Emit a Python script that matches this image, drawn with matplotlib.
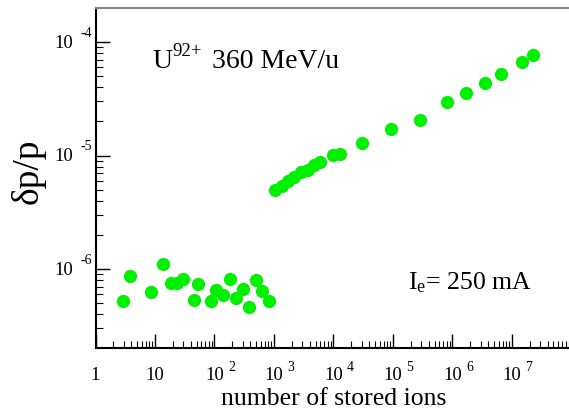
import numpy as np
import matplotlib
matplotlib.use("Agg")
import matplotlib.pyplot as plt
from matplotlib.ticker import LogLocator, FixedLocator, NullFormatter

plt.rcParams['font.family'] = ['Liberation Serif', 'DejaVu Serif']
plt.rcParams['mathtext.fontset'] = 'custom'
plt.rcParams['mathtext.rm'] = 'Liberation Serif'
plt.rcParams['mathtext.it'] = 'Liberation Serif:italic'

# few ions: momentum spread stays flat
ions_low = [2.87, 3.85, 8.57, 13.5, 18.8, 23.7, 29.9, 45.2, 52.7, 87.2,
            106, 140, 182, 232, 297, 383, 491, 634, 821]
dp_low = [5.26e-7, 8.73e-7, 6.31e-7, 1.11e-6, 7.48e-7, 7.48e-7, 8.17e-7,
          5.37e-7, 7.33e-7, 5.26e-7, 6.53e-7, 5.87e-7, 8.17e-7, 5.60e-7,
          6.67e-7, 4.60e-7, 7.96e-7, 6.44e-7, 5.26e-7]

# many ions: intra beam scattering regime
ions_high = [1035, 1342, 1731, 2183, 2797, 3665, 4730, 5970, 9870, 12790,
             30760, 92500, 287000, 822000, 1.70e6, 3.55e6, 6.51e6, 1.47e7, 2.23e7]
dp_high = [4.98e-6, 5.41e-6, 5.98e-6, 6.49e-6, 7.18e-6, 7.47e-6, 8.22e-6,
           8.79e-6, 1.007e-5, 1.042e-5, 1.29e-5, 1.70e-5, 2.04e-5, 2.96e-5,
           3.58e-5, 4.34e-5, 5.22e-5, 6.73e-5, 7.73e-5]

# tick labels drawn grace-style: base + raised exponent
x_ticks = [1, 10, 1e2, 1e3, 1e4, 1e5, 1e6, 1e7]
x_base = ['1', '10', '10', '10', '10', '10', '10', '10']
x_sup = ['', '', '2', '3', '4', '5', '6', '7']
y_ticks = [1e-6, 1e-5, 1e-4]
y_base = ['10', '10', '10']
y_sup = ['-6', '-5', '-4']

W, H = 569, 410
fig = plt.figure(figsize=(W / 100, H / 100), dpi=100)
ax = fig.add_axes([95.5 / W, 61 / H, 1 - 95.5 / W, 340 / H])

green = '#00f000'
ax.plot(ions_low, dp_low, 'o', color=green, ms=9.5, mec='none')
ax.plot(ions_high, dp_high, 'o', color=green, ms=9.5, mec='none')

ax.set_xscale('log')
ax.set_yscale('log')
ax.set_xlim(1, 10 ** 7.96)
ax.set_ylim(10 ** -6.695, 10 ** -3.70)

ax.xaxis.set_major_locator(FixedLocator(x_ticks))
ax.xaxis.set_major_formatter(NullFormatter())
ax.xaxis.set_minor_locator(LogLocator(base=10, subs=np.arange(2, 10), numticks=20))
ax.xaxis.set_minor_formatter(NullFormatter())
ax.yaxis.set_major_locator(FixedLocator(y_ticks))
ax.yaxis.set_major_formatter(NullFormatter())
ax.yaxis.set_minor_locator(LogLocator(base=10, subs=np.arange(2, 10), numticks=20))
ax.yaxis.set_minor_formatter(NullFormatter())

ax.tick_params(which='both', direction='in', top=False, right=False)
ax.tick_params(which='major', length=10, width=1.0)
ax.tick_params(which='minor', length=5, width=0.8)

xt = ax.get_xaxis_transform()
for v, b, s in zip(x_ticks, x_base, x_sup):
    ax.annotate(b, xy=(v, 0), xycoords=xt, xytext=(0, -18), textcoords='offset pixels',
                ha='center', va='top', fontsize=13.5, annotation_clip=False)
    if s:
        ax.annotate(s, xy=(v, 0), xycoords=xt, xytext=(13.5, -12.5), textcoords='offset pixels',
                    ha='left', va='top', fontsize=10, annotation_clip=False)

yt = ax.get_yaxis_transform()
for v, b, s in zip(y_ticks, y_base, y_sup):
    ax.annotate(b, xy=(0, v), xycoords=yt, xytext=(-22, 0), textcoords='offset pixels',
                ha='right', va='center', fontsize=13.5, annotation_clip=False)
    ax.annotate(s, xy=(0, v), xycoords=yt, xytext=(-15, 16.5), textcoords='offset pixels',
                ha='left', va='top', fontsize=10, annotation_clip=False)

ax.spines['right'].set_visible(False)
ax.spines['top'].set_color('#888888')
ax.spines['top'].set_linewidth(1.5)
ax.spines['left'].set_linewidth(1.5)
ax.spines['bottom'].set_linewidth(1.5)

fig.text(334 / W, 1 - 405 / H, 'number of stored ions', fontsize=18.5,
         ha='center', va='baseline')
fig.text(28 / W, 1 - 171 / H, '\u03b4p/p', fontsize=27, rotation=90,
         ha='center', va='center')

# U^92+ 360 MeV/u
fig.text(152 / W, 1 - 68 / H, 'U', fontsize=20, va='baseline')
fig.text(172 / W, 1 - 56 / H, '92+', fontsize=13.5, va='baseline')
fig.text(212 / W, 1 - 68 / H, '360 MeV/u', fontsize=20, va='baseline')
fig.text(408 / W, 1 - 289 / H, 'I$_{\\rm e}$= 250 mA', fontsize=18.5, va='baseline')

fig.savefig('out.png', dpi=100)
